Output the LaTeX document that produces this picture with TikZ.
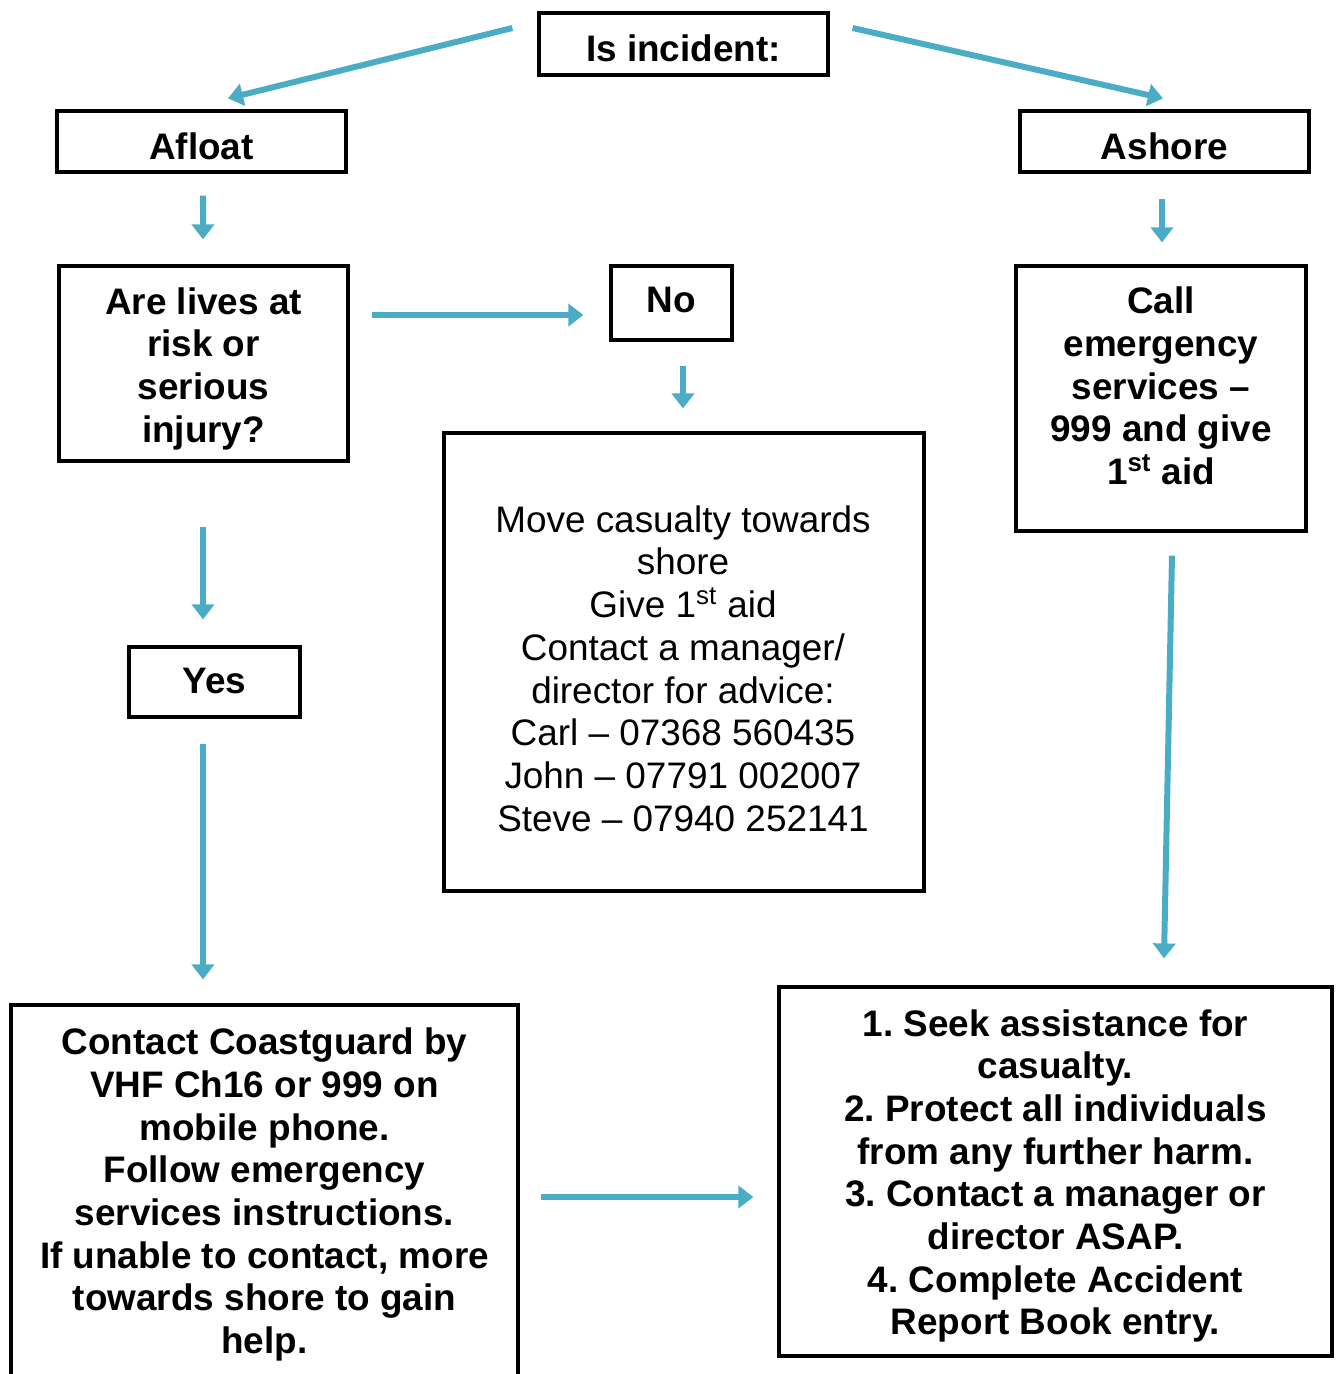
\documentclass[tikz,border=0pt]{standalone}
\usepackage{fontspec}
\setmainfont{Liberation Sans}
\usetikzlibrary{calc,arrows.meta}
\definecolor{arrowblue}{HTML}{4BACC6}
\begin{document}
\frenchspacing
\begin{tikzpicture}[x=0.02cm,y=-0.02cm]
\tikzstyle{every node}+=[font=\fontsize{21}{24.3}\selectfont\bfseries, align=center, inner sep=0pt]
\tikzstyle{box}=[draw=black, line width=0.065cm]
\tikzstyle{arr}=[draw=arrowblue, line width=0.12cm, -{Triangle[length=0.3cm,width=0.44cm]}]
\useasboundingbox (0,0) rectangle (1338,1374);
% boxes
\node [box, minimum width=5.78cm, minimum height=1.24cm] (incident) at (683.5,44) {};
\node [box, minimum width=5.78cm, minimum height=1.22cm] (afloat) at (201.5,141.5) {};
\node [box, minimum width=5.78cm, minimum height=1.22cm] (ashore) at (1164.5,141.5) {};
\node [box, minimum width=5.78cm, minimum height=3.9cm] (lives) at (203.5,363.5) {};
\node [box, minimum width=2.42cm, minimum height=1.48cm] (no) at (671.5,303) {};
\node [box, minimum width=5.8cm, minimum height=5.3cm] (call) at (1161,398.5) {};
\node [box, minimum width=3.42cm, minimum height=1.4cm] (yes) at (214.5,682) {};
\node [box, minimum width=9.6cm, minimum height=9.16cm] (mid) at (684,662) {};
\node [box, minimum width=10.14cm, minimum height=7.46cm] (coast) at (264.5,1191.5) {};
\node [box, minimum width=11.06cm, minimum height=7.38cm] (steps) at (1055.5,1171.5) {};
% texts
\node (incidenttext) at (683.5,48.5) {Is incident:};
\node (afloattext) at (201.5,146) {Afloat};
\node (ashoretext) at (1164.5,146) {Ashore};
\node (livestext) at (203.5,368.5) {Are lives at\\risk or\\serious\\injury?};
\node (notext) at (671.5,300) {No};
\node (calltext) at (1161,386) {Call\\emergency\\services --\\999 and give\\1\textsuperscript{st} aid};
\node (yestext) at (214.5,681) {Yes};
\node [font=\fontsize{21}{24.3}\selectfont\mdseries] (midtext) at (683,668.5) {Move casualty towards\\shore\\Give 1\textsuperscript{st} aid\\Contact a manager/\\director for advice:\\Carl -- 07368 560435\\John -- 07791 002007\\Steve -- 07940 252141};
\node (coasttext) at (264.5,1194.5) {Contact Coastguard by\\VHF Ch16 or 999 on\\mobile phone.\\Follow emergency\\services instructions.\\If unable to contact, more\\towards shore to gain\\help.};
\node (stepstext) at (1055.5,1176) {1. Seek assistance for\\casualty.\\2. Protect all individuals\\from any further harm.\\3. Contact a manager or\\director ASAP.\\4. Complete Accident\\Report Book entry.};
% arrows
\draw [arr] ($(incident.west)+(-25,-16)$) -- ($(afloat.north)+(26.5,-11)$);
\draw [arr] ($(incident.east)+(23,-16)$) -- ($(ashore.north)+(-1.5,-11)$);
\draw [arr] ($(afloat.south)+(1.5,22)$) -- ($(lives.north)+(-0.5,-25)$);
\draw [arr] ($(ashore.south)+(-2.5,25)$) -- ($(call.north)+(1,-22)$);
\draw [arr] ($(lives.east)+(22,-48.5)$) -- ($(no.west)+(-26,12)$);
\draw [arr] ($(no.south)+(11.5,24)$) -- ($(mid.north)+(-1,-23)$);
\draw [arr] ($(lives.south)+(-0.5,64)$) -- ($(yes.north)+(-11.5,-26)$);
\draw [arr] ($(yes.south)+(-11.5,25)$) -- ($(coast.north)+(-61.5,-24)$);
\draw [arr] ($(call.south)+(11,23)$) -- ($(steps.north)+(108.5,-27)$);
\draw [arr] ($(coast.east)+(21,5.5)$) -- ($(steps.west)+(-24,25.5)$);
\end{tikzpicture}
\end{document}
